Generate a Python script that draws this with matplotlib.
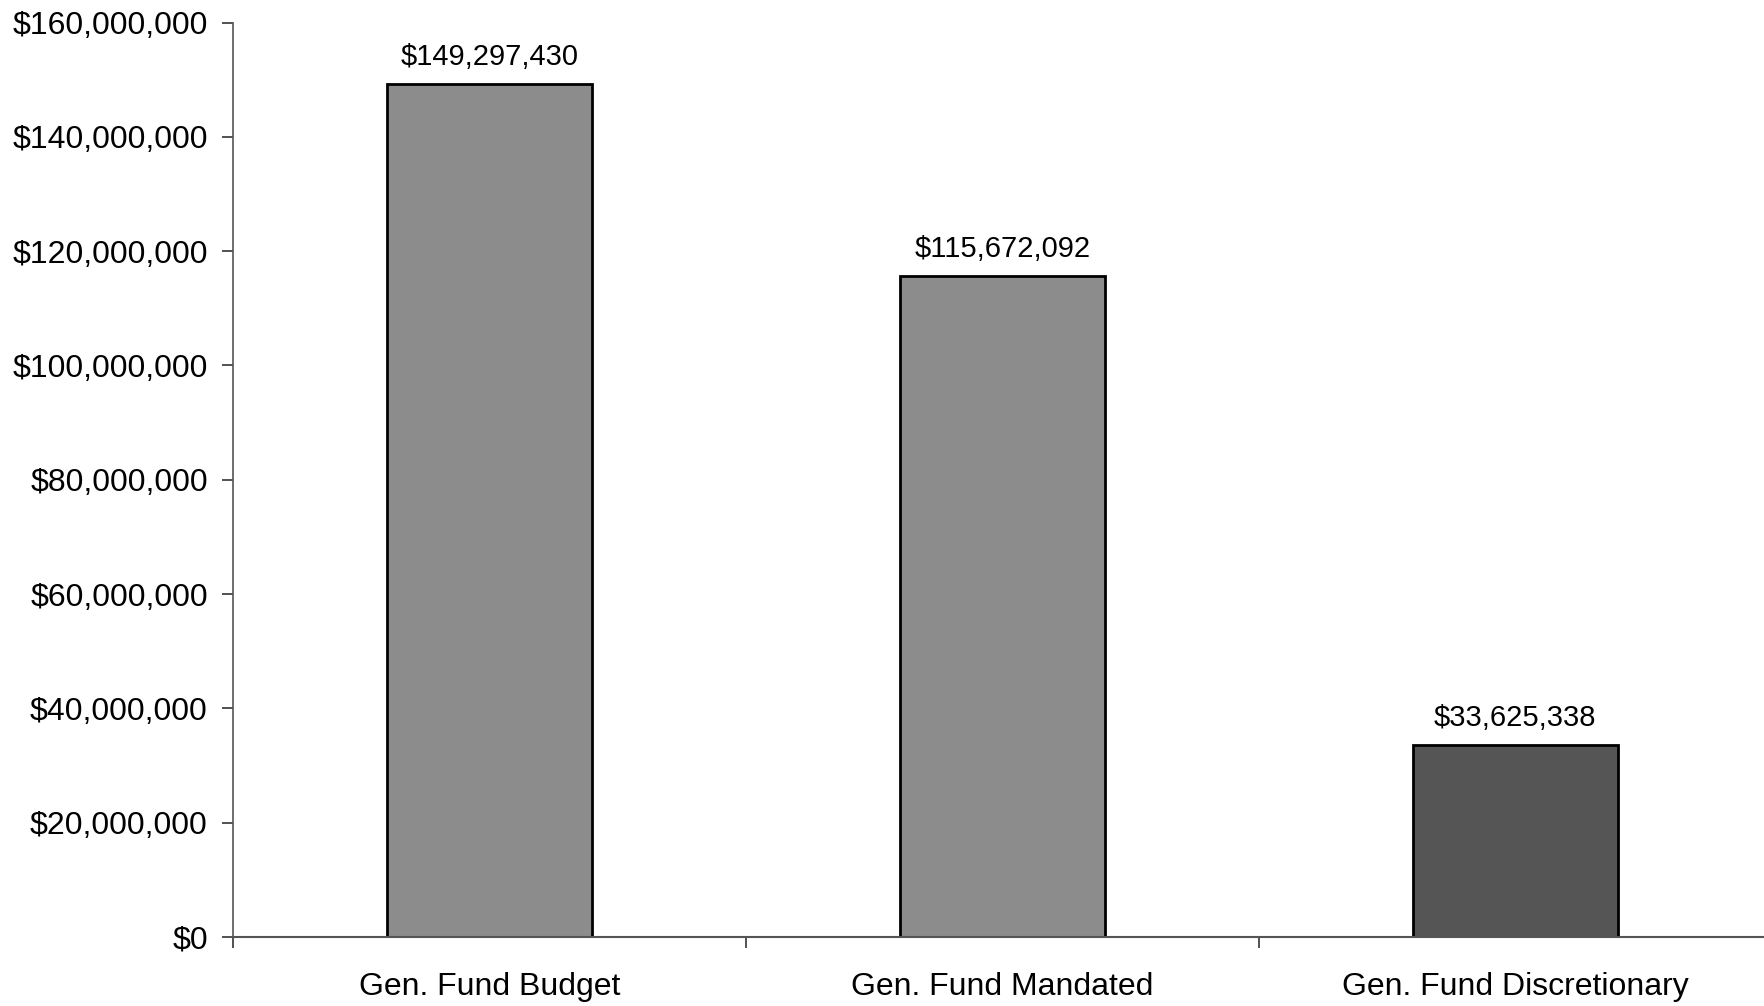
import matplotlib.pyplot as plt
from matplotlib.ticker import FuncFormatter, FixedLocator

plt.rcParams['font.family'] = ['Liberation Sans', 'DejaVu Sans']

categories = ['Gen. Fund Budget', 'Gen. Fund Mandated', 'Gen. Fund Discretionary']
values = [149297430, 115672092, 33625338]
bar_colors = ['#8c8c8c', '#8c8c8c', '#555555']

fig = plt.figure(figsize=(17.64, 10.06), dpi=100)
ax = fig.add_axes([0.132, 0.0686, 0.8724, 0.909])

x = range(len(categories))
bars = ax.bar(x, values, width=0.4, color=bar_colors, edgecolor='black', linewidth=2)
ax.bar_label(bars, labels=['${:,.0f}'.format(v) for v in values], padding=9, fontsize=21)

ax.set_xlim(-0.5, 2.5)
ax.set_ylim(0, 160000000)
ax.set_yticks(range(0, 160000001, 20000000))
ax.yaxis.set_major_formatter(FuncFormatter(lambda v, p: '${:,.0f}'.format(v)))

ax.set_xticks(list(x))
ax.set_xticklabels(categories)
ax.xaxis.set_minor_locator(FixedLocator([-0.5, 0.5, 1.5, 2.5]))
ax.tick_params(axis='x', which='major', length=0, pad=25, labelsize=23)
ax.tick_params(axis='x', which='minor', length=8, width=1.2, color='#333333', direction='out')
ax.tick_params(axis='y', length=8, width=1.2, color='#333333', pad=10, labelsize=23)

for s in ['top', 'right']:
    ax.spines[s].set_visible(False)
ax.spines['left'].set_color('#555555')
ax.spines['bottom'].set_color('#555555')
ax.spines['left'].set_linewidth(1.2)
ax.spines['bottom'].set_linewidth(1.5)

fig.savefig('out.png', dpi=100)
